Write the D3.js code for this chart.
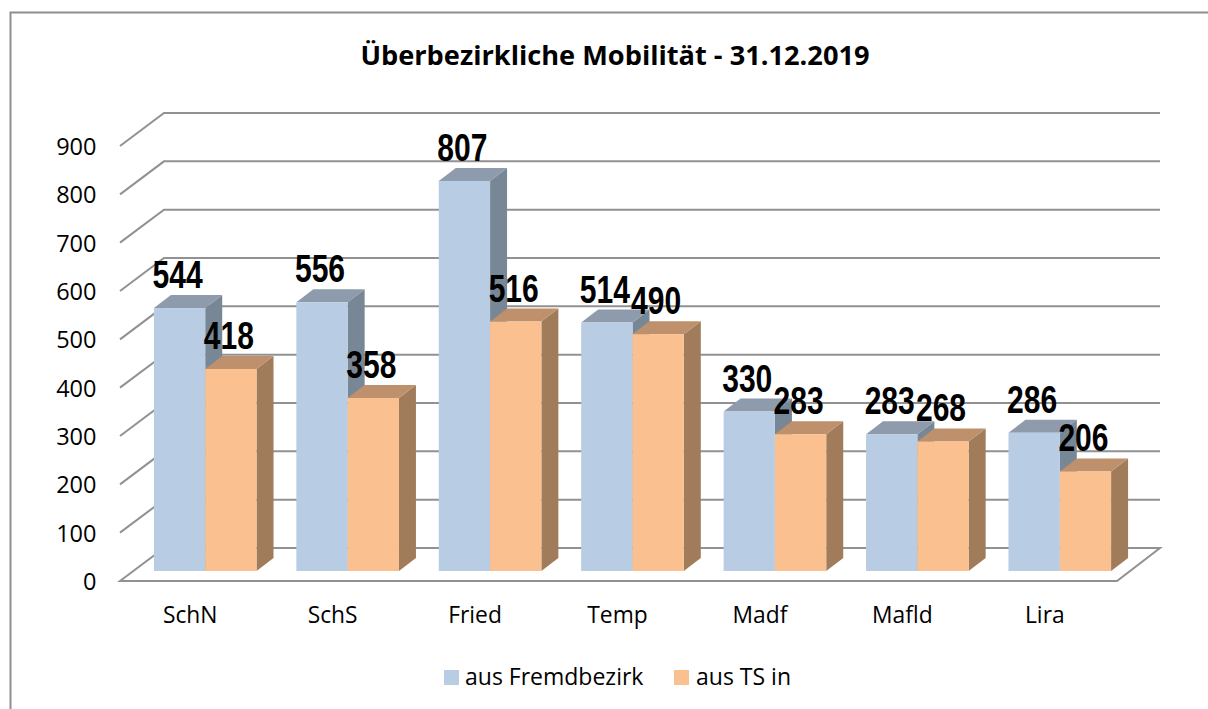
<!DOCTYPE html>
<html>
<head>
<meta charset="utf-8">
<script src="https://cdnjs.cloudflare.com/ajax/libs/d3/7.8.5/d3.min.js"></script>
<style>
html, body { margin: 0; padding: 0; background: #fff; }
svg { display: block; }
text { font-family: "Open Sans", sans-serif; fill: #000; }
</style>
</head>
<body>
<script>
var categories = ["SchN", "SchS", "Fried", "Temp", "Madf", "Mafld", "Lira"]
var fremd = [544, 556, 807, 514, 330, 283, 286]
var ts = [418, 358, 516, 490, 283, 268, 206]
var yTicks = [0, 100, 200, 300, 400, 500, 600, 700, 800, 900]
var seriesNames = ["aus Fremdbezirk", "aus TS in"]

var blue = { front: "#b8cce4", top: "#8e9bad", side: "#788796" }
var orange = { front: "#fac090", top: "#be906b", side: "#a07c5a" }

var svg = d3.select("body").append("svg")
    .attr("width", 1208)
    .attr("height", 709)

// frame, only top and left show in the picture
svg.append("path")
    .attr("d", "M1208,12.5H10.5V709")
    .attr("fill", "none")
    .attr("stroke", "#8e8e8e")
    .attr("stroke-width", 2)

var xScale = d3.scaleBand().domain(categories).range([120, 1117])
// front plane of the axis box
var yScale = d3.scaleLinear().domain([0, 900]).range([581, 146])

var wallDx = 44, wallDy = -33      // floor depth
var barDx = 17, barDy = -13        // bar depth
var barW = 51.3
var barBase = 571

function yBar(v) { return barBase - (yScale(0) - yScale(v)) }

// gridlines running along the side wall and the back wall
svg.append("g").selectAll("path")
    .data(yTicks)
    .enter()
    .append("path")
    .attr("fill", "none")
    .attr("stroke", "#919191")
    .attr("stroke-width", 2)
    .attr("d", function (d) {
        var y = yScale(d)
        var back = "M120," + y + "L" + (120 + wallDx) + "," + (y + wallDy) + "H1160"
        // floor closes around the front
        if (d === 0) back += "L1117," + y + "Z"
        return back
    })

function drawBars(values, colors, offset) {
    var g = svg.append("g")
    return function (i) {
        var c = categories[i]
        var x0 = xScale(c) + xScale.bandwidth() / 2 + 14 + offset
        var x1 = x0 + barW
        var yT = yBar(values[i])
        var bar = g.append("g")
        bar.append("path").attr("fill", colors.side)
            .attr("d", "M" + x1 + "," + barBase + "V" + yT + "l" + barDx + "," + barDy + "V" + (barBase + barDy) + "Z")
        bar.append("path").attr("fill", colors.top)
            .attr("d", "M" + x0 + "," + yT + "H" + x1 + "l" + barDx + "," + barDy + "H" + (x0 + barDx) + "Z")
        bar.append("rect").attr("fill", colors.front)
            .attr("x", x0).attr("y", yT).attr("width", barW).attr("height", barBase - yT)
    }
}

var drawBlue = drawBars(fremd, blue, -barW)
var drawOrange = drawBars(ts, orange, 0)
categories.forEach(function (c, i) {
    drawBlue(i)
})
categories.forEach(function (c, i) {
    drawOrange(i)
})

// axes, labels only
var yAxis = d3.axisLeft(yScale).tickValues(yTicks).tickSize(0).tickPadding(0)
var gy = svg.append("g").attr("transform", "translate(96.5,0)").call(yAxis)
gy.select(".domain").remove()
gy.selectAll("text").attr("font-size", 23.5).style("font-family", '"Open Sans", sans-serif').attr("dy", "0.36em")

var xAxis = d3.axisBottom(xScale).tickSize(0).tickPadding(0)
var gx = svg.append("g").attr("transform", "translate(-1,607)").call(xAxis)
gx.select(".domain").remove()
gx.selectAll("text").attr("font-size", 22.8).style("font-family", '"Open Sans", sans-serif')

// data labels, squeezed sideways because no narrow bold face is installed
function labels(values, offset) {
    svg.append("g").selectAll("text")
        .data(values)
        .enter()
        .append("text")
        .text(function (d) { return d })
        .attr("text-anchor", "middle")
        .attr("transform", function (d, i) {
            var x = xScale(categories[i]) + xScale.bandwidth() / 2 + 14 + offset + barW / 2 - 2
            return "translate(" + x + "," + (yBar(d) - 20) + ") scale(0.77,1)"
        })
        .style("font-family", '"Liberation Sans", sans-serif')
        .style("font-weight", "bold")
        .attr("font-size", 39)
}
labels(fremd, -barW)
labels(ts, 0)

svg.append("text")
    .text("Überbezirkliche Mobilität - 31.12.2019")
    .attr("x", 615)
    .attr("y", 65)
    .attr("text-anchor", "middle")
    .style("font-weight", "bold")
    .attr("font-size", 27.2)

// legend
var legendX = [444, 674]
var legendTextX = [465, 696]
var legendColors = [blue.front, orange.front]
seriesNames.forEach(function (name, i) {
    svg.append("rect").attr("x", legendX[i]).attr("y", 670)
        .attr("width", 15).attr("height", 15).attr("fill", legendColors[i])
    svg.append("text").text(name).attr("x", legendTextX[i]).attr("y", 685).attr("font-size", 23)
})
</script>
</body>
</html>
